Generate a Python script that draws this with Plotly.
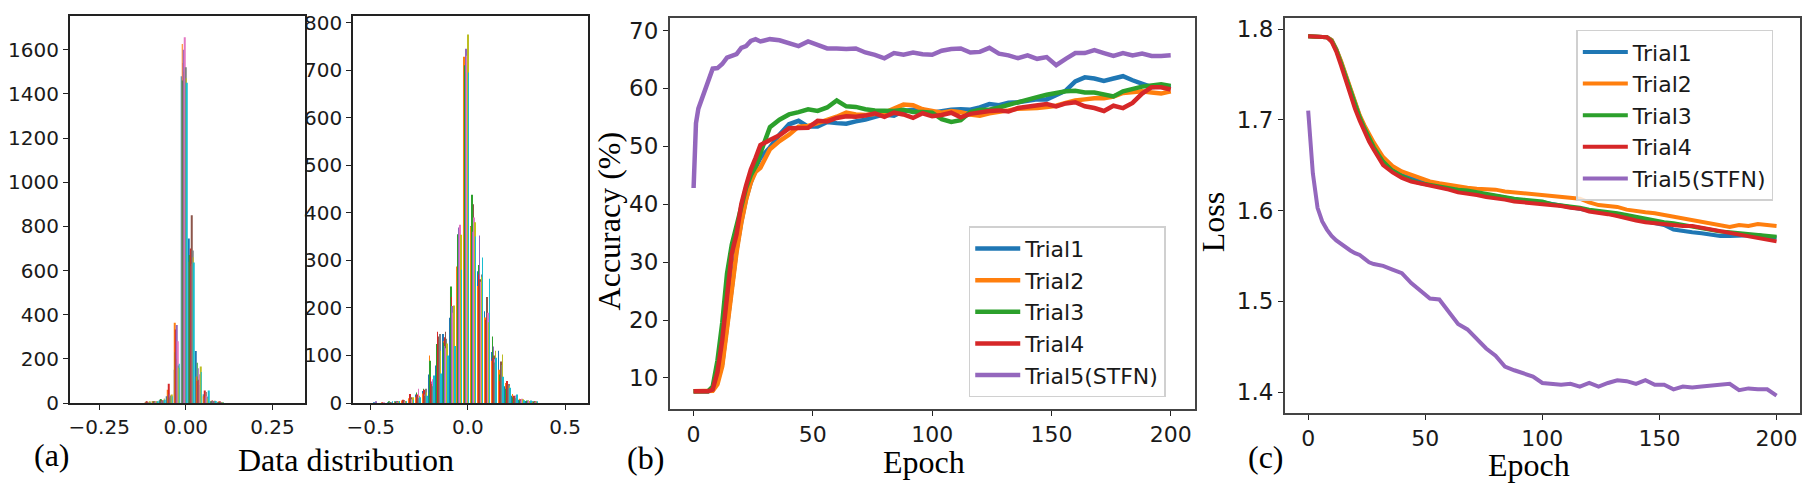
import plotly.graph_objects as go

# ---- (a) histograms: one row per bin, one column per dataset (tab10 order) ----
A1_BINS = [-0.110, -0.089, -0.068, -0.047, -0.026, -0.005, 0.016, 0.037, 0.058, 0.079, 0.100]
A1_COUNTS = [
    [3, 2, 5, 4, 2, 3, 1, 2, 4, 3],
    [6, 4, 8, 5, 3, 6, 4, 3, 6, 5],
    [12, 10, 18, 14, 8, 12, 9, 10, 20, 15],
    [30, 60, 35, 87, 40, 25, 35, 33, 38, 30],
    [150, 363, 230, 333, 353, 200, 280, 170, 160, 178],
    [1480, 1626, 1460, 1540, 1600, 1500, 1656, 1520, 1470, 1450],
    [745, 640, 670, 700, 620, 850, 630, 690, 660, 636],
    [235, 120, 182, 100, 157, 105, 130, 82, 165, 140],
    [40, 30, 35, 57, 25, 50, 30, 27, 20, 57],
    [8, 10, 6, 12, 5, 8, 6, 10, 5, 9],
    [2, 4, 3, 5, 2, 3, 2, 3, 3, 2],
]
A2_BINS = [-0.470, -0.435, -0.400, -0.364, -0.329, -0.293, -0.258, -0.222, -0.187, -0.151,
           -0.116, -0.080, -0.045, -0.009, 0.027, 0.062, 0.098, 0.133, 0.169, 0.204,
           0.240, 0.275, 0.311, 0.346]
A2_COUNTS = [
    [1, 0, 0, 0, 2, 0, 0, 0, 0, 0],
    [0, 1, 0, 1, 0, 0, 1, 0, 0, 0],
    [1, 0, 2, 0, 1, 1, 0, 1, 0, 2],
    [2, 1, 3, 4, 2, 3, 1, 2, 3, 4],
    [3, 5, 4, 7, 3, 6, 2, 4, 3, 3],
    [6, 10, 8, 19, 7, 12, 8, 9, 12, 7],
    [18, 12, 22, 18, 8, 15, 30, 10, 15, 12],
    [25, 20, 30, 28, 18, 15, 25, 30, 22, 15],
    [60, 100, 89, 55, 45, 40, 50, 35, 30, 58],
    [79, 60, 124, 150, 85, 140, 95, 145, 110, 62],
    [145, 130, 127, 138, 120, 150, 115, 135, 125, 100],
    [179, 235, 245, 223, 204, 168, 190, 150, 205, 120],
    [258, 287, 355, 240, 369, 262, 375, 300, 354, 280],
    [690, 728, 710, 705, 745, 700, 730, 720, 775, 695],
    [372, 371, 438, 354, 360, 418, 390, 365, 380, 350],
    [277, 246, 290, 270, 352, 260, 255, 270, 265, 306],
    [193, 180, 150, 175, 200, 223, 190, 165, 170, 261],
    [107, 89, 140, 95, 119, 100, 92, 85, 110, 95],
    [110, 70, 60, 47, 75, 87, 63, 80, 102, 55],
    [35, 42, 30, 46, 28, 38, 25, 40, 35, 32],
    [15, 19, 12, 15, 11, 14, 16, 10, 13, 18],
    [7, 9, 6, 8, 5, 7, 9, 6, 8, 6],
    [4, 3, 5, 4, 3, 5, 4, 3, 2, 5],
    [2, 1, 3, 2, 1, 2, 1, 2, 1, 2],
]
TAB10 = ["#1f77b4", "#ff7f0e", "#2ca02c", "#d62728", "#9467bd",
         "#8c564b", "#e377c2", "#7f7f7f", "#bcbd22", "#17becf"]

# ---- (b) accuracy and (c) loss per epoch ----
EPOCHS = [0, 1, 2, 4, 6, 8, 10, 12, 14, 16, 18, 20, 22, 24, 26, 28,
          32, 36, 40, 44, 48, 52, 56, 60, 64, 68,
          72, 76, 80, 84, 88, 92, 96, 100, 104, 108,
          112, 116, 120, 124, 128, 132, 136, 140, 144, 148,
          152, 156, 160, 164, 168, 172, 176, 180, 184, 188,
          192, 196, 200]
TRIALS = ["Trial1", "Trial2", "Trial3", "Trial4", "Trial5(STFN)"]

ACC_T1 = [7.7, 7.7, 7.7, 7.7, 7.7, 7.9, 9.4, 12.5, 18.8, 25.8, 32.2, 37.0, 41.0, 43.8, 46.3, 48.0,
          49.8, 52.0, 53.8, 54.4, 53.4, 53.4, 54.2, 54.0, 53.9, 54.3,
          54.6, 55.1, 55.5, 55.3, 56.1, 56.3, 56.2, 55.8, 56.1, 56.3,
          56.4, 56.3, 56.7, 57.3, 57.1, 57.5, 57.6, 57.9, 58.1, 58.1,
          58.8, 59.6, 61.2, 61.9, 61.7, 61.3, 61.7, 62.1, 61.4, 60.7,
          60.2, 60.4, 60.1]
ACC_T2 = [7.7, 7.7, 7.7, 7.7, 7.7, 7.8, 8.9, 12.0, 18.5, 25.3, 31.7, 36.8, 40.8, 43.8, 45.6, 46.3,
          49.5, 50.9, 52.0, 53.4, 53.5, 54.0, 54.5, 55.1, 55.8, 55.5,
          55.4, 55.6, 55.8, 56.5, 57.2, 57.1, 56.4, 56.1, 55.8, 56.1,
          55.9, 55.5, 55.3, 55.7, 55.9, 56.2, 56.5, 56.5, 56.6, 56.8,
          57.0, 57.5, 57.9, 58.1, 58.3, 58.3, 58.6, 59.2, 59.3, 59.5,
          59.3, 59.1, 59.5]
ACC_T3 = [7.7, 7.7, 7.7, 7.7, 7.7, 8.5, 13.0, 19.5, 28.0, 33.0, 36.5, 39.8, 42.8, 45.0, 46.5, 48.8,
          53.3, 54.6, 55.5, 55.9, 56.4, 56.1, 56.7, 57.9, 56.9, 56.8,
          56.4, 56.2, 56.1, 56.1, 56.3, 55.9, 55.9, 55.8, 54.7, 54.2,
          54.5, 55.9, 56.3, 56.3, 56.7, 57.2, 57.7, 58.2, 58.5, 58.9,
          59.3, 59.5, 59.6, 59.3, 59.3, 59.0, 58.6, 59.5, 60.0, 60.3,
          60.5, 60.7, 60.4]
ACC_T4 = [7.7, 7.7, 7.7, 7.7, 7.7, 8.0, 11.0, 16.5, 24.5, 31.5, 34.8, 40.0, 43.2, 46.0, 48.0, 50.2,
          51.1, 51.9, 53.1, 53.1, 53.2, 54.4, 54.3, 54.9, 55.2, 55.1,
          55.3, 55.7, 55.1, 55.8, 55.5, 54.9, 55.7, 55.2, 55.4, 55.8,
          55.0, 55.6, 55.9, 56.1, 56.2, 56.0, 56.6, 56.8, 57.0, 57.3,
          56.9, 57.4, 57.6, 56.9, 56.6, 56.1, 57.0, 56.6, 57.5, 59.1,
          60.2, 60.2, 59.8]
ACC_T5 = [42.8, 54.0, 56.5, 59.0, 61.2, 63.4, 63.5, 64.2, 65.3, 65.6, 65.9, 67.0, 67.3, 68.2, 68.5, 68.1,
          68.5, 68.3, 67.7, 67.3, 68.1, 67.6, 66.9, 66.9, 66.8, 66.9,
          66.2, 65.8, 65.2, 66.1, 65.8, 66.2, 65.9, 65.8, 66.5, 66.8,
          66.9, 66.2, 66.3, 67.0, 66.0, 65.7, 65.2, 65.7, 65.1, 65.4,
          64.0, 65.1, 66.1, 66.1, 66.6, 66.1, 65.6, 66.1, 65.7, 66.0,
          65.6, 65.6, 65.7]

LOSS_T1 = [1.792, 1.792, 1.792, 1.792, 1.792, 1.791, 1.788, 1.778, 1.764, 1.749, 1.733, 1.717, 1.704, 1.692, 1.681, 1.671,
           1.655, 1.645, 1.639, 1.635, 1.632, 1.629, 1.626, 1.624, 1.622, 1.620,
           1.619, 1.617, 1.616, 1.614, 1.612, 1.611, 1.609, 1.609, 1.607, 1.605,
           1.603, 1.602, 1.600, 1.599, 1.597, 1.595, 1.593, 1.590, 1.588, 1.586,
           1.584, 1.579, 1.577, 1.576, 1.575, 1.573, 1.572, 1.572, 1.572, 1.573,
           1.573, 1.571, 1.570]
LOSS_T2 = [1.792, 1.792, 1.792, 1.792, 1.792, 1.791, 1.788, 1.778, 1.765, 1.750, 1.734, 1.718, 1.705, 1.694, 1.684, 1.675,
           1.659, 1.649, 1.643, 1.639, 1.636, 1.632, 1.630, 1.628, 1.626, 1.625,
           1.624, 1.624, 1.623, 1.621, 1.620, 1.620, 1.619, 1.618, 1.616, 1.615,
           1.614, 1.613, 1.609, 1.606, 1.605, 1.604, 1.601, 1.599, 1.598, 1.597,
           1.595, 1.593, 1.591, 1.589, 1.588, 1.586, 1.583, 1.582, 1.584, 1.583,
           1.585, 1.584, 1.583]
LOSS_T3 = [1.792, 1.792, 1.792, 1.792, 1.792, 1.791, 1.787, 1.777, 1.763, 1.748, 1.732, 1.716, 1.703, 1.691, 1.680, 1.670,
           1.654, 1.644, 1.638, 1.633, 1.630, 1.628, 1.626, 1.625, 1.623, 1.622,
           1.620, 1.618, 1.617, 1.615, 1.613, 1.612, 1.611, 1.610, 1.607, 1.606,
           1.604, 1.603, 1.601, 1.600, 1.598, 1.597, 1.595, 1.593, 1.590, 1.588,
           1.587, 1.586, 1.584, 1.582, 1.580, 1.578, 1.577, 1.576, 1.575, 1.574,
           1.573, 1.572, 1.571]
LOSS_T4 = [1.792, 1.792, 1.792, 1.792, 1.792, 1.791, 1.786, 1.775, 1.760, 1.744, 1.727, 1.712, 1.699, 1.687, 1.676, 1.667,
           1.650, 1.642, 1.636, 1.632, 1.630, 1.627, 1.625, 1.623, 1.620, 1.619,
           1.617, 1.615, 1.614, 1.612, 1.610, 1.609, 1.609, 1.608, 1.606, 1.605,
           1.603, 1.602, 1.599, 1.598, 1.596, 1.594, 1.591, 1.589, 1.587, 1.586,
           1.584, 1.583, 1.583, 1.583, 1.581, 1.580, 1.578, 1.576, 1.574, 1.571,
           1.570, 1.568, 1.566]
LOSS_T5 = [1.710, 1.672, 1.641, 1.603, 1.588, 1.579, 1.572, 1.567, 1.563, 1.559, 1.556, 1.553, 1.551, 1.547, 1.543, 1.541,
           1.539, 1.535, 1.531, 1.520, 1.511, 1.503, 1.502, 1.489, 1.475, 1.469,
           1.459, 1.448, 1.440, 1.428, 1.424, 1.420, 1.417, 1.410, 1.409, 1.408,
           1.409, 1.406, 1.410, 1.406, 1.410, 1.413, 1.412, 1.409, 1.413, 1.408,
           1.408, 1.403, 1.406, 1.405, 1.406, 1.407, 1.408, 1.409, 1.402, 1.404,
           1.403, 1.403, 1.396]

ACC = [ACC_T1, ACC_T2, ACC_T3, ACC_T4, ACC_T5]
LOSS = [LOSS_T1, LOSS_T2, LOSS_T3, LOSS_T4, LOSS_T5]

# a little shorter than the window so the page gets no scrollbar (bottom strip is blank anyway)
W, H = 1811, 481
SANS = "DejaVu Sans"
SERIF = "Liberation Serif"

fig = go.Figure()

for xa, ya, bins, counts in [("x", "y", A1_BINS, A1_COUNTS), ("x2", "y2", A2_BINS, A2_COUNTS)]:
    for j, col in enumerate(TAB10):
        fig.add_trace(go.Bar(x=bins, y=[row[j] for row in counts], xaxis=xa, yaxis=ya,
                             marker=dict(color=col, line=dict(width=0)), showlegend=False))

for xa, ya, series, lw, leg in [("x3", "y3", ACC, 4.5, "legend"), ("x4", "y4", LOSS, 4, "legend2")]:
    for name, vals, col in zip(TRIALS, series, TAB10):
        fig.add_trace(go.Scatter(x=EPOCHS, y=vals, mode="lines", name=name, xaxis=xa, yaxis=ya,
                                 line=dict(color=col, width=lw), legend=leg))


def ax(domain, rng, size, **kw):
    d = dict(domain=domain, range=rng, showline=True, mirror=True, linecolor="#222", linewidth=1.5,
             ticks="outside", ticklen=5, tickwidth=1.3, tickcolor="#222", showgrid=False, zeroline=False,
             ticklabeloverflow="allow", tickfont=dict(family=SANS, size=size, color="#1a1a1a"))
    d.update(kw)
    return d


leg = dict(xanchor="left", yanchor="top", font=dict(family=SANS, size=22, color="#1a1a1a"),
           bgcolor="rgba(255,255,255,0.8)", bordercolor="#d0d0d0", borderwidth=1.5, itemwidth=45)

fig.update_layout(
    width=W, height=H, template="none", margin=dict(l=0, r=0, t=0, b=0),
    paper_bgcolor="white", plot_bgcolor="white",
    barmode="group", bargap=0.2, bargroupgap=0,
    xaxis=ax([0.0341, 0.1638], [-0.335, 0.343], 20, tickvals=[-0.25, 0, 0.25], tickformat=".2f", anchor="y"),
    yaxis=ax([0.1788, 0.9827], [0, 1751], 20, dtick=200, anchor="x"),
    xaxis2=ax([0.1905, 0.3205], [-0.591, 0.620], 20, tickvals=[-0.5, 0, 0.5], tickformat=".1f", anchor="y2"),
    yaxis2=ax([0.1788, 0.9827], [0, 813], 20, dtick=100, anchor="x2"),
    xaxis3=ax([0.3654, 0.6552], [-10, 210], 22, dtick=50, anchor="y3", linecolor="#444"),
    yaxis3=ax([0.1663, 0.9786], [4.64, 72.1], 23, dtick=10, anchor="x3", linecolor="#444"),
    xaxis4=ax([0.7050, 0.9895], [-10, 210], 22, dtick=50, anchor="y4", linecolor="#444"),
    yaxis4=ax([0.1580, 0.9786], [1.3769, 1.8118], 23, dtick=0.1, tickformat=".1f", anchor="x4",
              linecolor="#444"),
    legend=dict(leg, x=0.5305, y=0.5462),
    legend2=dict(leg, x=0.8660, y=0.9549),
)

labels = [
    ("(a)", 0.0243, 0.0699, 0),
    ("Data distribution", 0.1866, 0.0613, 0),
    ("(b)", 0.3519, 0.0636, 0),
    ("Epoch", 0.5056, 0.0566, 0),
    ("Accuracy (%)", 0.3318, 0.5582, -90),
    ("(c)", 0.6946, 0.0665, 0),
    ("Epoch", 0.8400, 0.0509, 0),
    ("Loss", 0.6655, 0.5551, -90),
]
for text, x, y, ang in labels:
    fig.add_annotation(text=text, x=x, y=y, xref="paper", yref="paper", showarrow=False,
                       xanchor="center", yanchor="middle", textangle=ang,
                       font=dict(family=SERIF, size=32, color="black"))

fig.write_html("out.html")
